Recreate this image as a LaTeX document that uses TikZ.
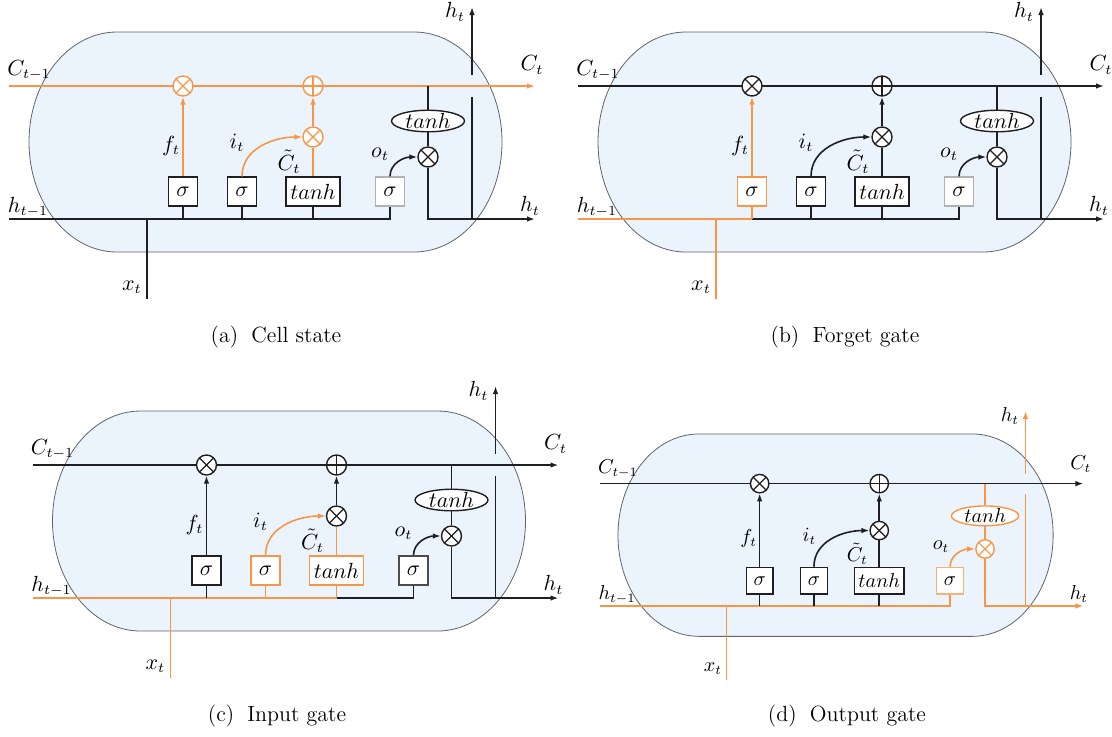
\documentclass[tikz,border=0pt]{standalone}
\usetikzlibrary{arrows.meta,shapes.geometric}
\definecolor{og}{RGB}{247,150,70}
\definecolor{cellfill}{RGB}{235,243,253}
\definecolor{cellline}{RGB}{95,100,110}
\definecolor{ink}{RGB}{30,30,35}
\tikzset{
  wire/.style={line width=0.8pt},
  arr/.style={-{Latex[length=4pt,width=2.8pt]}},
  gatebox/.style={draw=#1, fill=white, line width=0.7pt, minimum height=14.5pt, minimum width=14.5pt, inner sep=0pt, font=\fontsize{10.5}{12}\selectfont},
  mult/.style={circle, draw=#1, fill=white, line width=0.7pt, minimum size=10pt, inner sep=0pt,
    path picture={\draw[#1,line width=0.6pt] (path picture bounding box.center) ++(45:6pt) -- ++(225:12pt);
                  \draw[#1,line width=0.6pt] (path picture bounding box.center) ++(135:6pt) -- ++(-45:12pt);}},
  plusn/.style={circle, draw=#1, fill=white, line width=0.7pt, minimum size=10pt, inner sep=0pt,
    path picture={\draw[#1,line width=0.6pt] (path picture bounding box.center) ++(90:6pt) -- ++(270:12pt);
                  \draw[#1,line width=0.6pt] (path picture bounding box.center) ++(0:6pt) -- ++(180:12pt);}},
  tanhell/.style={ellipse, draw=#1, fill=white, line width=0.7pt, minimum width=36.5pt, minimum height=10pt, inner sep=0pt, font=\fontsize{10.5}{12}\selectfont},
  lab/.style={inner sep=0pt, font=\fontsize{10.5}{12}\selectfont},
  capt/.style={inner sep=0pt, font=\fontsize{11}{13}\selectfont},
}
\newcommand\allink{%
  \colorlet{cCl}{ink}\colorlet{cFc}{ink}\colorlet{cFa}{ink}\colorlet{cAdd}{ink}%
  \colorlet{cAddA}{ink}\colorlet{cIc}{ink}\colorlet{cIa}{ink}\colorlet{cTl}{ink}%
  \colorlet{cBf}{ink}\colorlet{cBi}{ink}\colorlet{cBt}{ink}\colorlet{cBo}{gray!60}%
  \colorlet{cHa}{ink}\colorlet{cHb}{ink}\colorlet{cHc}{ink}\colorlet{cHd}{ink}%
  \colorlet{cX}{ink}\colorlet{cSa}{ink}\colorlet{cSb}{ink}\colorlet{cSc}{ink}%
  \colorlet{cOa}{ink}\colorlet{cOc}{ink}\colorlet{cEl}{ink}\colorlet{cDrop}{ink}%
  \colorlet{cElL}{ink}\colorlet{cHo}{ink}\colorlet{cHu}{ink}}
\newcommand\lstmpanel{%
  % cell body
  \filldraw[fill=cellfill, draw=cellline, line width=0.4pt]
    (117,32) -- (414,32) arc[start angle=-90, end angle=90, x radius=88, y radius=110]
    -- (117,252) arc[start angle=90, end angle=270, x radius=88, y radius=110] -- cycle;
  % coordinates
  \coordinate (cin) at (9,86);
  \coordinate (cout) at (535,86);
  \coordinate (dtop) at (428,86);
  \coordinate (hin) at (9,219);
  \coordinate (jx) at (147,219);
  \coordinate (xs) at (147,299);
  \coordinate (ja) at (183,219);
  \coordinate (jb) at (242,219);
  \coordinate (jc) at (313,219);
  \coordinate (jd) at (390,219);
  \coordinate (hcorner) at (428,219);
  \coordinate (hout) at (535,219);
  \coordinate (hua) at (472,219);
  \coordinate (hub) at (472,97);
  \coordinate (huc) at (472,75);
  \coordinate (hud) at (472,7);
  % cell state line
  \draw[wire, cCl, arr] (cin) -- (cout);
  % operators and gates
  \node[mult=cFc] (mf) at (183,86) {};
  \node[plusn=cAdd] (ad) at (313,86) {};
  \node[mult=cIc] (mi) at (313,137) {};
  \node[mult=cOc] (mo) at (428,157) {};
  \node[tanhell=cEl] (th) at (428,121) {$tanh$};
  \node[gatebox=cBf] (bf) at (183,191.5) {$\sigma$};
  \node[gatebox=cBi] (bi) at (242,191.5) {$\sigma$};
  \node[gatebox=cBt, minimum width=27pt] (bt) at (313,191.5) {$tanh$};
  \node[gatebox=cBo] (bo) at (390,191.5) {$\sigma$};
  % hidden/input line
  \draw[wire, cHa] (hin) -- (ja);
  \draw[wire, cHb] (ja) -- (jb);
  \draw[wire, cHc] (jb) -- (jc);
  \draw[wire, cHd] (jc) -- (jd) -- (bo.south);
  \draw[wire, cX] (xs) -- (jx);
  \draw[wire, cSa] (ja) -- (bf.south);
  \draw[wire, cSb] (jb) -- (bi.south);
  \draw[wire, cSc] (jc) -- (bt.south);
  % gate connections
  \draw[wire, cFa, arr] (bf.north) -- (mf.south);
  \draw[wire, cIa, arr] (bi.north) to[out=90, in=180] (mi.west);
  \draw[wire, cTl] (bt.north) -- (mi.south);
  \draw[wire, cAddA, arr] (mi.north) -- (ad.south);
  \draw[wire, cOa, arr] (bo.north) to[out=90, in=180] (mo.west);
  \draw[wire, cDrop] (dtop) -- (th.north);
  \draw[wire, cElL] (th.south) -- (mo.north);
  \draw[wire, cHo, arr] (mo.south) -- (hcorner) -- (hout);
  \draw[wire, cHu] (hua) -- (hub);
  \draw[wire, cHu, arr] (huc) -- (hud);
  % labels
  \node[lab] (lcin) at (29,70) {$C_{t-1}$};
  \node[lab] (lhin) at (28,207) {$h_{t-1}$};
  \node[lab] (lcout) at (532,65) {$C_t$};
  \node[lab] (lhout) at (530,206) {$h_t$};
  \node[lab] (lhup) at (455,12) {$h_t$};
  \node[lab] (lx) at (132,287) {$x_t$};
  \node[lab] (lf) at (171,146) {$f_t$};
  \node[lab] (li) at (237,143) {$i_t$};
  \node[lab] (lct) at (289,162) {$\tilde{C}_t$};
  \node[lab] (lo) at (380,154) {$o_t$};
}
\begin{document}
\begin{tikzpicture}[x=0.5pt, y=-0.5pt]
\useasboundingbox (0,0) rectangle (1112,736);
% (a) cell state
\begin{scope}[name prefix=a-]
  \allink
  \colorlet{cCl}{og}\colorlet{cFc}{og}\colorlet{cFa}{og}\colorlet{cAdd}{og}
  \colorlet{cAddA}{og}\colorlet{cIc}{og}\colorlet{cIa}{og}\colorlet{cTl}{og}
  \lstmpanel
\end{scope}
% (b) forget gate
\begin{scope}[name prefix=b-, shift={(569,0)}]
  \allink
  \colorlet{cHa}{og}\colorlet{cX}{og}\colorlet{cBf}{og}\colorlet{cSa}{og}\colorlet{cFa}{og}
  \lstmpanel
\end{scope}
% (c) input gate
\begin{scope}[name prefix=c-, shift={(23.5,379)}]
  \allink
  \colorlet{cHa}{og}\colorlet{cHb}{og}\colorlet{cHc}{og}\colorlet{cX}{og}
  \colorlet{cBi}{og}\colorlet{cBt}{og}\colorlet{cSb}{og}\colorlet{cSc}{og}
  \colorlet{cIa}{og}\colorlet{cTl}{og}\colorlet{cBo}{black!70}
  \lstmpanel
\end{scope}
% (d) output gate
\begin{scope}[name prefix=d-, shift={(591.3,404.5)}, scale=0.92, transform shape]
  \allink
  \colorlet{cHa}{og}\colorlet{cHb}{og}\colorlet{cHc}{og}\colorlet{cHd}{og}\colorlet{cX}{og}
  \colorlet{cBo}{og!75}\colorlet{cOa}{og}\colorlet{cOc}{og}\colorlet{cEl}{og}
  \colorlet{cDrop}{og}\colorlet{cElL}{og}\colorlet{cHo}{og}\colorlet{cHu}{og}
  \lstmpanel
\end{scope}
% captions
\node[capt] (capa) at (276,337) {(a)\hspace{0.6em}Cell state};
\node[capt] (capb) at (845,337) {(b)\hspace{0.6em}Forget gate};
\node[capt] (capc) at (277,716) {(c)\hspace{0.6em}Input gate};
\node[capt] (capd) at (847,716) {(d)\hspace{0.6em}Output gate};
\end{tikzpicture}
\end{document}
